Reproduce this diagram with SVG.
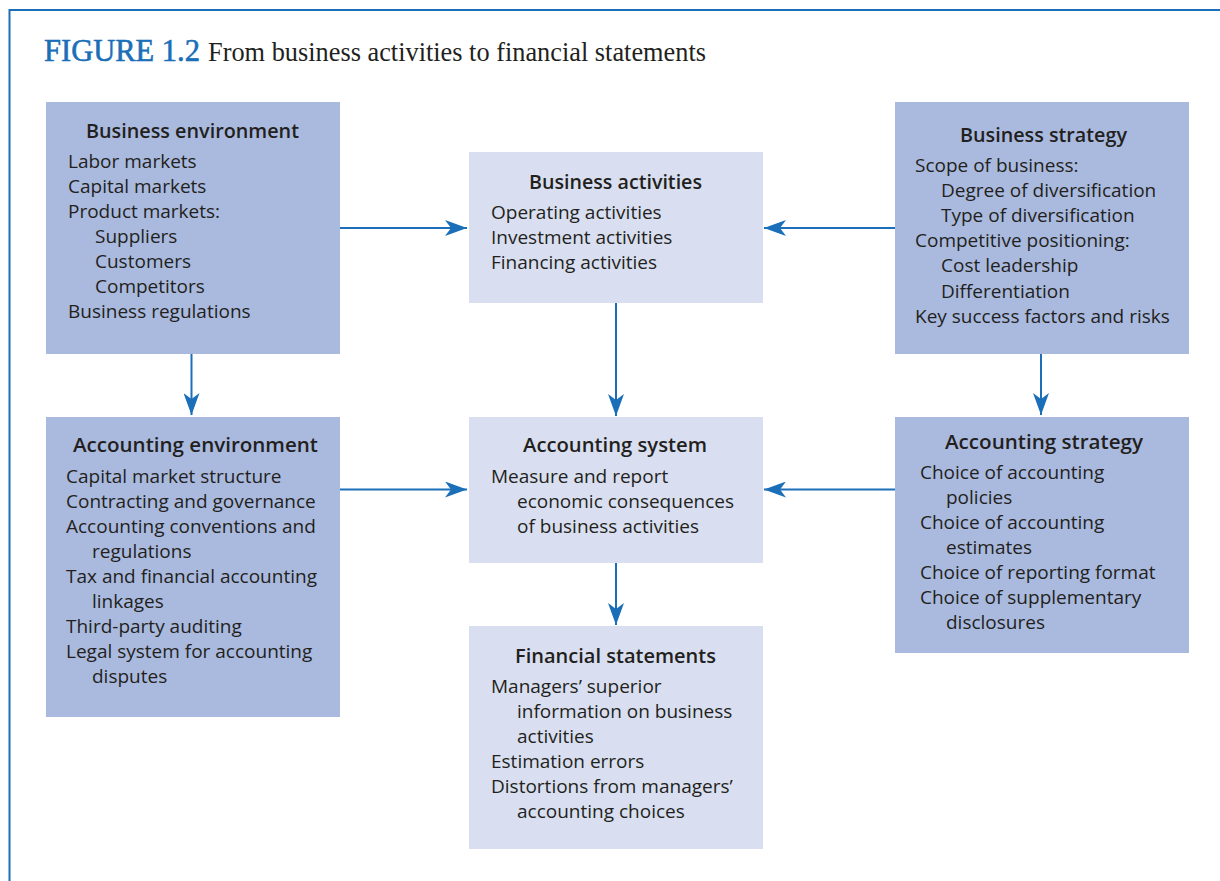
<svg xmlns="http://www.w3.org/2000/svg" width="1220" height="881" viewBox="0 0 1220 881">
  <style>
    .frame { fill: none; stroke: #1a6fb8; stroke-width: 2; }
    .dark { fill: #aabadf; }
    .light { fill: #d9dff0; }
    .hd { font-family: "Open Sans", "Noto Sans", sans-serif; font-size: 19.5px; font-weight: 600; fill: #231f20; text-anchor: middle; }
    .tx { font-family: "Open Sans", "Noto Sans", sans-serif; font-size: 19px; fill: #231f20; }
    .fig { font-family: "Liberation Serif", serif; font-size: 32px; fill: #1a6fb8; stroke: #1a6fb8; stroke-width: 0.6; }
    .cap { font-family: "Liberation Serif", serif; font-size: 27.5px; fill: #231f20; }
    .link { fill: none; stroke: #1a6fb8; stroke-width: 2; marker-end: url(#head); }
  </style>
  <defs>
    <marker id="head" viewBox="0 0 22 16" refX="22" refY="8" markerWidth="22" markerHeight="16" markerUnits="userSpaceOnUse" orient="auto">
      <path d="M0,0 L22,8 L0,16 L6,8 Z" fill="#1a6fb8"/>
    </marker>
  </defs>

  <rect width="1220" height="881" fill="#ffffff"/>
  <!-- outer frame: top rule and left rule -->
  <path class="frame" d="M9.5,881 V10 H1220"/>

  <!-- figure caption -->
  <text class="fig" x="44" y="61" textLength="156" lengthAdjust="spacingAndGlyphs">FIGURE 1.2</text>
  <text class="cap" x="208" y="61" textLength="498" lengthAdjust="spacingAndGlyphs">From business activities to financial statements</text>

  <!-- connectors -->
  <g id="connectors">
    <path class="link" d="M340,228 H467"/>
    <path class="link" d="M895,228 H764"/>
    <path class="link" d="M616,303 V416"/>
    <path class="link" d="M191.5,354 V415"/>
    <path class="link" d="M1041,354 V415"/>
    <path class="link" d="M340,489.5 H467"/>
    <path class="link" d="M895,489.5 H764"/>
    <path class="link" d="M616,563 V625"/>
  </g>

  <g id="business-environment">
    <rect class="dark" x="46" y="102" width="294" height="252"/>
    <text class="hd" x="192.5" y="137.5" textLength="213" lengthAdjust="spacingAndGlyphs">Business environment</text>
    <text class="tx" x="68" y="168">Labor markets</text>
    <text class="tx" x="68" y="193">Capital markets</text>
    <text class="tx" x="68" y="218">Product markets:</text>
    <text class="tx" x="95" y="243">Suppliers</text>
    <text class="tx" x="95" y="268">Customers</text>
    <text class="tx" x="95" y="293">Competitors</text>
    <text class="tx" x="68" y="318">Business regulations</text>
  </g>

  <g id="business-activities">
    <rect class="light" x="469" y="152" width="294" height="151"/>
    <text class="hd" x="615.5" y="189" textLength="173" lengthAdjust="spacingAndGlyphs">Business activities</text>
    <text class="tx" x="491" y="219">Operating activities</text>
    <text class="tx" x="491" y="244">Investment activities</text>
    <text class="tx" x="491" y="269">Financing activities</text>
  </g>

  <g id="business-strategy">
    <rect class="dark" x="895" y="102" width="294" height="252"/>
    <text class="hd" x="1043.5" y="142" textLength="167" lengthAdjust="spacingAndGlyphs">Business strategy</text>
    <text class="tx" x="915" y="172">Scope of business:</text>
    <text class="tx" x="941" y="197">Degree of diversification</text>
    <text class="tx" x="941" y="222">Type of diversification</text>
    <text class="tx" x="915" y="247">Competitive positioning:</text>
    <text class="tx" x="941" y="272">Cost leadership</text>
    <text class="tx" x="941" y="297.5">Differentiation</text>
    <text class="tx" x="915" y="322.5">Key success factors and risks</text>
  </g>

  <g id="accounting-environment">
    <rect class="dark" x="46" y="417" width="294" height="300"/>
    <text class="hd" x="195.5" y="451.5" textLength="245" lengthAdjust="spacingAndGlyphs">Accounting environment</text>
    <text class="tx" x="66" y="482.5">Capital market structure</text>
    <text class="tx" x="66" y="507.5">Contracting and governance</text>
    <text class="tx" x="66" y="532.5">Accounting conventions and</text>
    <text class="tx" x="92" y="557.5">regulations</text>
    <text class="tx" x="66" y="582.5">Tax and financial accounting</text>
    <text class="tx" x="92" y="607.5">linkages</text>
    <text class="tx" x="66" y="632.5">Third-party auditing</text>
    <text class="tx" x="66" y="658">Legal system for accounting</text>
    <text class="tx" x="92" y="683">disputes</text>
  </g>

  <g id="accounting-system">
    <rect class="light" x="469" y="417" width="294" height="146"/>
    <text class="hd" x="615" y="452" textLength="184" lengthAdjust="spacingAndGlyphs">Accounting system</text>
    <text class="tx" x="491" y="482.5">Measure and report</text>
    <text class="tx" x="517" y="507.5">economic consequences</text>
    <text class="tx" x="517" y="532.5">of business activities</text>
  </g>

  <g id="accounting-strategy">
    <rect class="dark" x="895" y="417" width="294" height="236"/>
    <text class="hd" x="1044" y="449" textLength="198" lengthAdjust="spacingAndGlyphs">Accounting strategy</text>
    <text class="tx" x="920" y="479">Choice of accounting</text>
    <text class="tx" x="946" y="504">policies</text>
    <text class="tx" x="920" y="529">Choice of accounting</text>
    <text class="tx" x="946" y="554">estimates</text>
    <text class="tx" x="920" y="579">Choice of reporting format</text>
    <text class="tx" x="920" y="604">Choice of supplementary</text>
    <text class="tx" x="946" y="629">disclosures</text>
  </g>

  <g id="financial-statements">
    <rect class="light" x="469" y="626" width="294" height="223"/>
    <text class="hd" x="615.5" y="663" textLength="201" lengthAdjust="spacingAndGlyphs">Financial statements</text>
    <text class="tx" x="491" y="693">Managers’ superior</text>
    <text class="tx" x="517" y="718">information on business</text>
    <text class="tx" x="517" y="743">activities</text>
    <text class="tx" x="491" y="768">Estimation errors</text>
    <text class="tx" x="491" y="793">Distortions from managers’</text>
    <text class="tx" x="517" y="818">accounting choices</text>
  </g>
</svg>
